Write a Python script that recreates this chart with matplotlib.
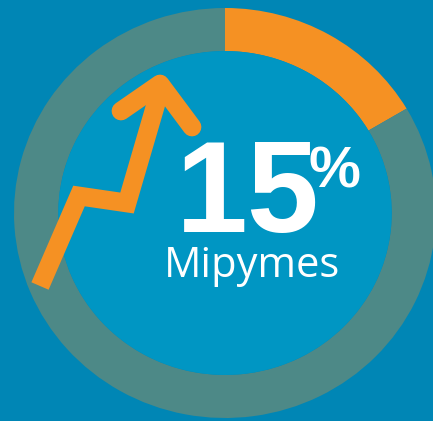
import matplotlib
matplotlib.use("Agg")
import matplotlib.pyplot as plt
from matplotlib.patches import Ellipse

# data
shares = [16.5, 83.5]          # orange share drawn, rest
share_labels = ["Mipymes", "Resto"]
big_text = "15"
pct_text = "%"
sub_text = "Mipymes"
# decorative rising arrow (pixel space of the 433x421 canvas)
arrow_x = [40, 79, 127, 160]
arrow_y = [286, 196, 203, 90]
head_x = [121, 160, 192]
head_y = [111, 84, 127]

BG = "#0086b5"
INNER = "#0096c3"
RING = "#4d8987"
ORANGE = "#f59123"

W, H = 433, 421
fig = plt.figure(figsize=(W / 100, H / 100), dpi=100, facecolor=BG)

# ring axes (normalised ellipse coordinates)
cx, cy, rx, ry = 225, 213, 211, 205
ax = fig.add_axes([0, 0, 1, 1])
ax.set_facecolor(BG)
ax.pie(shares, colors=[ORANGE, RING], startangle=90, counterclock=False,
       radius=1, center=(0, 0), wedgeprops=dict(width=0.21, linewidth=0))
ax.add_patch(Ellipse((0, 0), 2 * 0.79, 2 * 0.79, facecolor=INNER, edgecolor="none"))
ax.set_aspect("auto")
ax.set_xlim(-cx / rx, (W - cx) / rx)
ax.set_ylim(-(H - cy) / ry, cy / ry)
ax.axis("off")

# overlay axes in pixel coordinates
ov = fig.add_axes([0, 0, 1, 1])
ov.set_xlim(0, W)
ov.set_ylim(H, 0)
ov.patch.set_alpha(0)
ov.axis("off")

ov.plot(arrow_x, arrow_y, color=ORANGE, lw=13.5, solid_joinstyle="miter",
        solid_capstyle="butt")
ov.plot(head_x, head_y, color=ORANGE, lw=13.5, solid_joinstyle="round",
        solid_capstyle="round")

ov.text(176, 232, big_text, fontsize=93, fontweight="bold", color="white",
        family="Liberation Sans", ha="left", va="baseline")
ov.text(309, 188, pct_text, fontsize=42, fontweight="bold", color="white",
        family="Liberation Sans", ha="left", va="baseline")
ov.text(252, 277, sub_text, fontsize=30, color="white",
        family="Open Sans", ha="center", va="baseline")

fig.savefig("out.png", dpi=100, facecolor=BG)
